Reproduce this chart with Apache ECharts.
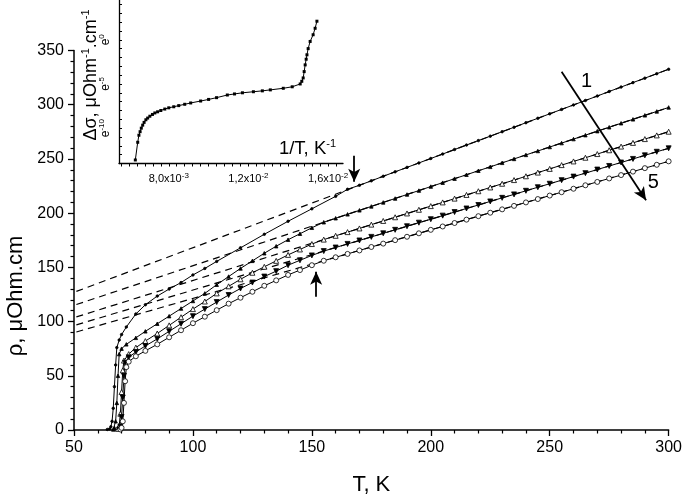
<!DOCTYPE html>
<html>
<head>
<meta charset="utf-8">
<script src="https://cdn.jsdelivr.net/npm/echarts@6/dist/echarts.min.js"></script>
<style>
html, body { margin: 0; padding: 0; background: #fff; }
#chart { width: 685px; height: 501px; }
</style>
</head>
<body>
<div id="chart"></div>
<script>
// main panel: resistivity vs temperature, 5 samples
const t1 = [64, 65, 65.5, 66, 66.5, 67, 67.5, 68, 69, 70, 72, 76, 80, 85, 90, 95, 100, 105, 110, 120, 130, 140, 150, 160, 165, 170, 175, 180, 185, 190, 195, 200, 205, 210, 215, 220, 225, 230, 235, 240, 245, 250, 255, 260, 265, 270, 275, 280, 285, 290, 295, 300]
const rho1 = [0.5, 1, 3, 8, 20, 40, 60, 76, 83, 88, 95, 107, 115.5, 123.5, 130, 136, 143, 149, 155.5, 168, 180.5, 192.5, 204, 215.5, 222, 225.7, 229.8, 234, 238.1, 242.2, 246.3, 250.4, 254.5, 258.7, 262.8, 266.9, 271, 275.1, 279.2, 283.4, 287.5, 291.6, 295.7, 299.8, 303.9, 308, 312.2, 316.3, 320.4, 324.5, 328.6, 332.7]

const t2 = [66.5, 67, 67.5, 68, 68.5, 69, 70, 72, 76, 80, 85, 90, 95, 100, 105, 110, 115, 120, 125, 130, 135, 140, 145, 150, 155, 160, 165, 170, 175, 180, 185, 190, 195, 200, 205, 210, 215, 220, 225, 230, 235, 240, 245, 250, 255, 260, 265, 270, 275, 280, 285, 290, 295, 300]
const rho2 = [0.5, 2, 8, 25, 50, 70, 75, 79, 85, 91, 98, 105, 112, 119, 126, 134, 141.5, 149, 156, 163, 169.5, 175.5, 181, 186.5, 191.6, 195.3, 198.9, 202.6, 206.2, 209.9, 213.5, 217.2, 220.8, 224.5, 228.1, 231.8, 235.4, 239.1, 242.7, 246.4, 250, 253.7, 257.3, 261, 264.6, 268.3, 271.9, 275.6, 279.2, 282.9, 286.5, 290.2, 293.8, 297.5]

const t3 = [68.5, 69, 69.5, 70, 70.5, 71, 73, 76, 80, 85, 90, 95, 100, 105, 110, 115, 120, 125, 130, 135, 140, 145, 150, 155, 160, 165, 170, 175, 180, 185, 190, 195, 200, 205, 210, 215, 220, 225, 230, 235, 240, 245, 250, 255, 260, 265, 270, 275, 280, 285, 290, 295, 300]
const rho3 = [1, 4, 15, 35, 55, 64, 70, 76, 82, 89, 96.5, 104, 111.5, 118.5, 126, 132.5, 139, 145, 150.5, 156, 161.5, 166.5, 171.5, 175.6, 179.1, 182.5, 185.9, 189.4, 192.8, 196.2, 199.7, 203.1, 206.5, 209.9, 213.4, 216.8, 220.2, 223.7, 227.1, 230.5, 234, 237.4, 240.8, 244.3, 247.7, 251.1, 254.5, 258, 261.4, 264.8, 268.3, 271.7, 275.1]

const t4 = [69, 69.5, 70, 70.5, 71, 71.5, 73, 76, 80, 85, 90, 95, 100, 105, 110, 115, 120, 125, 130, 135, 140, 145, 150, 155, 160, 165, 170, 175, 180, 185, 190, 195, 200, 205, 210, 215, 220, 225, 230, 235, 240, 245, 250, 255, 260, 265, 270, 275, 280, 285, 290, 295, 300]
const rho4 = [0.5, 3, 12, 30, 50, 62, 67, 72, 77.5, 84, 91, 98, 105, 111.5, 118, 124.5, 130.5, 136, 141.5, 146.5, 152, 156.5, 161, 165, 168.3, 171.6, 174.8, 178.1, 181.4, 184.6, 187.9, 191.2, 194.4, 197.7, 201, 204.3, 207.5, 210.8, 214.1, 217.3, 220.6, 223.9, 227.1, 230.4, 233.7, 236.9, 240.2, 243.5, 246.7, 250, 253.3, 256.6, 259.8]

const t5 = [69.5, 70, 70.5, 71, 71.5, 72, 73, 76, 80, 85, 90, 95, 100, 105, 110, 115, 120, 125, 130, 135, 140, 145, 150, 155, 160, 165, 170, 175, 180, 185, 190, 195, 200, 205, 210, 215, 220, 225, 230, 235, 240, 245, 250, 255, 260, 265, 270, 275, 280, 285, 290, 295, 300]
const rho5 = [0.5, 2, 8, 25, 45, 58, 63, 68, 73, 79, 85.5, 92, 98.5, 104.5, 110.5, 116.5, 122, 127.5, 133, 138, 143, 147.5, 152, 156.1, 159.3, 162.4, 165.6, 168.8, 171.9, 175.1, 178.2, 181.4, 184.6, 187.7, 190.9, 194, 197.2, 200.4, 203.5, 206.7, 209.9, 213, 216.2, 219.3, 222.5, 225.7, 228.8, 232, 235.1, 238.3, 241.5, 244.6, 247.8]

// dashed linear fits: value at left end (T=51) and right end (T=300)
const fitT = [51, 300]
const fitLeft = [127.8, 115.7, 104.3, 97, 90.4]
const fitRight = [332.7, 297.5, 275.1, 259.8, 247.8]

// inset: ln(delta sigma) vs 1/T
const invT = [0.00632, 0.00644, 0.0065, 0.00656, 0.00662, 0.00669, 0.00676, 0.00685, 0.00694, 0.00705, 0.00718, 0.0073, 0.00744, 0.0076, 0.0078, 0.008, 0.00825, 0.0085, 0.0088, 0.0091, 0.0096, 0.01, 0.0104, 0.01094, 0.0113, 0.0117, 0.01225, 0.0127, 0.0131, 0.01375, 0.0142, 0.0146, 0.01468, 0.01475, 0.0148, 0.01485, 0.0149, 0.01494, 0.015, 0.0151, 0.01525, 0.01535, 0.01544]
const lnSigma = [-13.6, -11.6, -10.8, -10.4, -10, -9.66, -9.35, -9.05, -8.86, -8.65, -8.45, -8.28, -8.15, -8, -7.84, -7.7, -7.58, -7.45, -7.3, -7.15, -6.93, -6.75, -6.55, -6.25, -6.13, -6, -5.88, -5.78, -5.67, -5.49, -5.32, -5, -4.7, -4.32, -3.6, -2.84, -2.2, -1.7, -1, -0.19, 0.57, 1.3, 2.1]

const insetXLabels = [0.008, 0.012, 0.016]
const insetYLabels = [-10, -5, 0]

const chart = echarts.init(document.getElementById('chart'))
const font = 'Liberation Sans'

const zip = (xs, ys) => xs.map((x, i) => [x, ys[i]])

const curves = [
  { t: t1, r: rho1, symbol: 'circle', size: 2.5, fill: '#000' },
  { t: t2, r: rho2, symbol: 'triangle', size: 3.5, fill: '#000' },
  { t: t3, r: rho3, symbol: 'triangle', size: 5, fill: '#fff' },
  { t: t4, r: rho4, symbol: 'path://M0,0 L10,0 L5,9 Z', size: 5, fill: '#000' },
  { t: t5, r: rho5, symbol: 'circle', size: 5, fill: '#fff' }
]

const series = []
curves.forEach(c => {
  series.push({
    type: 'line',
    data: zip(c.t, c.r),
    symbol: c.symbol,
    symbolSize: c.size,
    showAllSymbol: true,
    lineStyle: { color: '#000', width: 1 },
    itemStyle: { color: c.fill, borderColor: '#000', borderWidth: 0.8 },
    z: 3
  })
})
fitLeft.forEach((a, i) => {
  series.push({
    type: 'line',
    data: zip(fitT, [a, fitRight[i]]),
    symbol: 'none',
    lineStyle: { color: '#000', width: 1.2, type: [7, 5] },
    z: 2
  })
})

// arrows and curve numbering
series.push({
  type: 'line',
  data: [],
  markLine: {
    silent: true,
    symbol: ['none', 'arrow'],
    symbolSize: [9, 13],
    label: { show: false },
    lineStyle: { color: '#000', width: 1.8, type: 'solid' },
    data: [
      [{ coord: [255, 330.5] }, { coord: [290.5, 212] }],
      [{ coord: [167.8, 253] }, { coord: [167.8, 229] }],
      [{ coord: [151.8, 123] }, { coord: [151.8, 146] }]
    ]
  },
  markPoint: {
    symbol: 'circle',
    symbolSize: 0,
    label: { show: true, color: '#000', fontSize: 20, fontFamily: font, formatter: p => p.name },
    data: [
      { name: '1', coord: [265.5, 321] },
      { name: '5', coord: [293.5, 228] }
    ]
  }
})

series.push({
  type: 'line',
  xAxisIndex: 1,
  yAxisIndex: 1,
  data: zip(invT, lnSigma),
  symbol: 'rect',
  symbolSize: 3,
  showAllSymbol: true,
  lineStyle: { color: '#000', width: 1 },
  itemStyle: { color: '#000' }
})

const insetXTicks = []
for (let k = 14; k <= 41; k++) insetXTicks.push(+(k * 0.0004).toFixed(4))
const insetYTicks = []
for (let k = -14; k <= 4; k++) insetYTicks.push(k)

const option = {
  animation: false,
  backgroundColor: '#fff',
  grid: [
    { left: 74, right: 12, top: 50.5, bottom: 63 },
    { left: 119, width: 224, top: 0, height: 163.5 }
  ],
  xAxis: [
    {
      type: 'value', min: 50, max: 300, interval: 50,
      name: 'T, K', nameLocation: 'middle', nameGap: 44,
      nameTextStyle: { color: '#000', fontSize: 22, fontFamily: font },
      axisLine: { lineStyle: { color: '#000', width: 1.5 } },
      axisTick: { length: 6, lineStyle: { color: '#000', width: 1.3 } },
      minorTick: { show: true, splitNumber: 5, length: 3.5, lineStyle: { color: '#000', width: 1.2 } },
      axisLabel: { color: '#000', fontSize: 16, fontFamily: font, margin: 10 },
      splitLine: { show: false }
    },
    {
      type: 'value', gridIndex: 1, min: 0.0055, max: 0.01675,
      axisLine: { onZero: false, lineStyle: { color: '#000', width: 1.3 } },
      axisTick: { length: 3, customValues: insetXTicks, lineStyle: { color: '#000' } },
      axisLabel: {
        customValues: insetXLabels, color: '#000', fontSize: 11, fontFamily: font, margin: 8,
        formatter: v => {
          const e = Math.floor(Math.log10(v) + 1e-9)
          const m = (v / Math.pow(10, e)).toFixed(1).replace('.', ',')
          return '{a|' + m + 'x10}{s|' + e + '}'
        },
        rich: {
          a: { fontSize: 11, fontFamily: font, color: '#000' },
          s: { fontSize: 8, fontFamily: font, color: '#000', padding: [0, 0, 7, 0] }
        }
      },
      splitLine: { show: false }
    }
  ],
  yAxis: [
    {
      type: 'value', min: 0, max: 350, interval: 50,
      axisLine: { show: true, lineStyle: { color: '#000', width: 1.5 } },
      axisTick: { show: true, length: 6, lineStyle: { color: '#000', width: 1.3 } },
      minorTick: { show: true, splitNumber: 5, length: 3.5, lineStyle: { color: '#000', width: 1.2 } },
      axisLabel: { color: '#000', fontSize: 16, fontFamily: font, margin: 10 },
      splitLine: { show: false }
    },
    {
      type: 'value', gridIndex: 1, min: -14, max: 4.5,
      axisLine: { show: true, onZero: false, lineStyle: { color: '#000', width: 1.3 } },
      axisTick: { show: true, inside: true, length: 3, customValues: insetYTicks, lineStyle: { color: '#000' } },
      axisLabel: {
        customValues: insetYLabels, rotate: 90, color: '#000', fontSize: 12, fontFamily: font, margin: 5,
        formatter: v => '{a|e}{s|' + v + '}',
        rich: {
          a: { fontSize: 12, fontFamily: font, color: '#000' },
          s: { fontSize: 8, fontFamily: font, color: '#000', padding: [0, 0, 8, 0] }
        }
      },
      splitLine: { show: false }
    }
  ],
  graphic: [
    {
      type: 'text', x: 16, y: 296, rotation: Math.PI / 2,
      style: {
        text: 'ρ, μOhm.cm', fontSize: 22, fontFamily: font, fill: '#000',
        align: 'center', verticalAlign: 'middle', textAlign: 'center', textVerticalAlign: 'middle'
      }
    },
    {
      type: 'text', x: 91, y: 75, rotation: Math.PI / 2,
      style: {
        text: '{a|Δσ, μOhm}{s|-1}{a|.cm}{s|-1}',
        align: 'center', verticalAlign: 'middle', textAlign: 'center', textVerticalAlign: 'middle',
        rich: {
          a: { fontSize: 18, fontFamily: font, fill: '#000' },
          s: { fontSize: 11, fontFamily: font, fill: '#000', padding: [0, 0, 11, 0] }
        }
      }
    },
    {
      type: 'text', x: 336, y: 149,
      style: {
        text: '{a|1/T, K}{s|-1}', align: 'right', verticalAlign: 'middle',
        rich: {
          a: { fontSize: 18.5, fontFamily: font, fill: '#000' },
          s: { fontSize: 11, fontFamily: font, fill: '#000', padding: [0, 0, 10, 0] }
        }
      }
    }
  ],
  series: series
}

chart.setOption(option)
window.addEventListener('resize', () => chart.resize())
</script>
</body>
</html>
